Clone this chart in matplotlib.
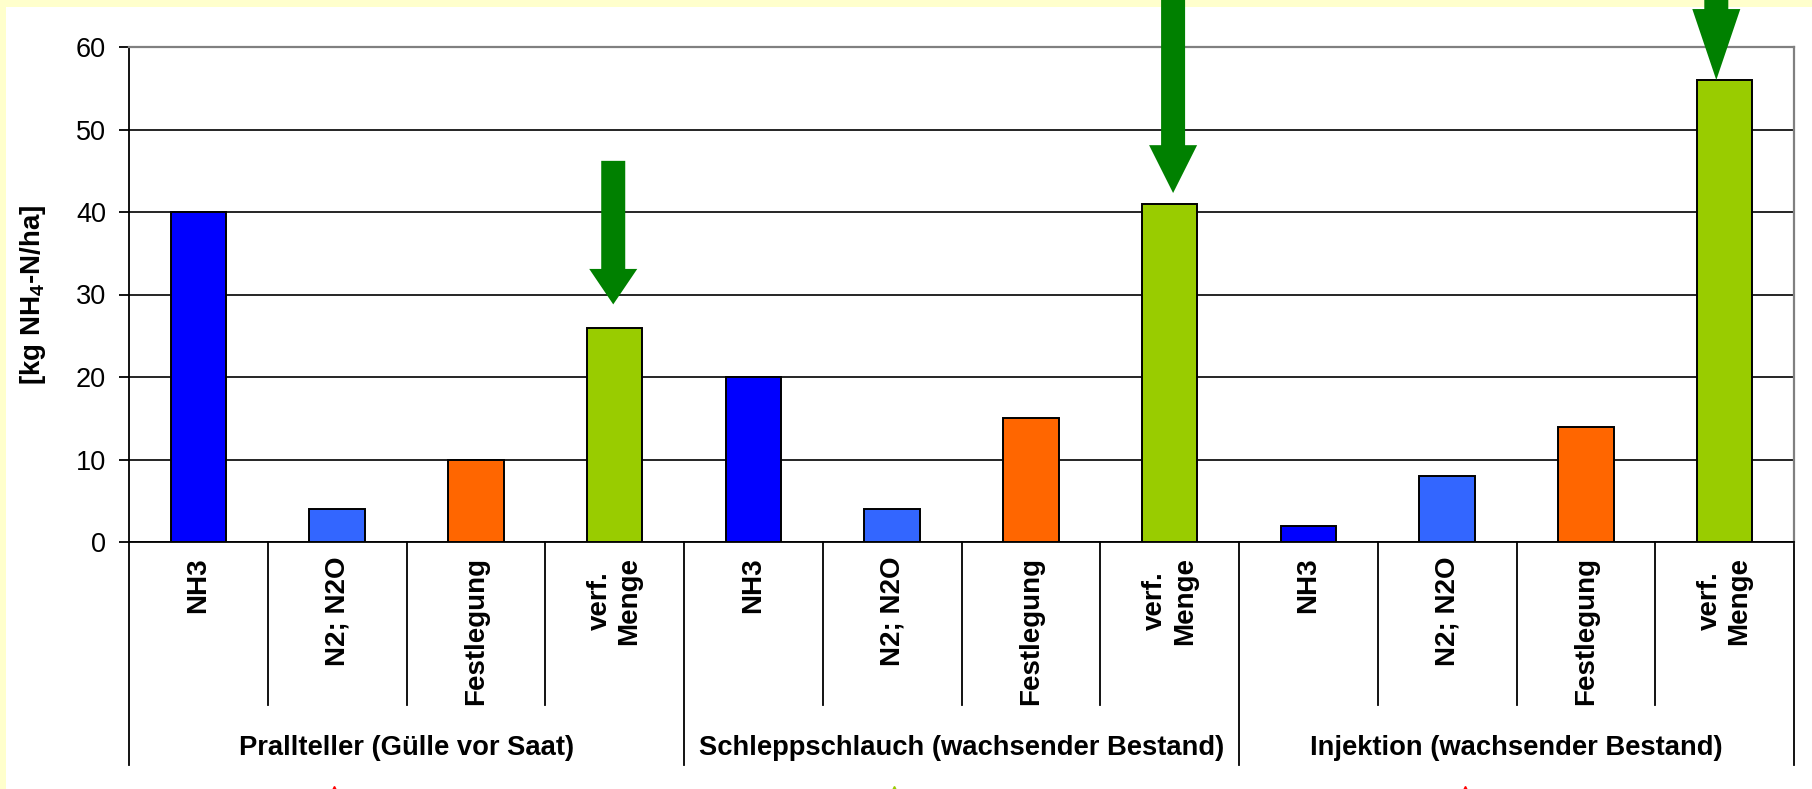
import matplotlib
matplotlib.use("Agg")
import matplotlib.pyplot as plt
import matplotlib.transforms as mtransforms
from matplotlib.patches import Rectangle, Polygon

plt.rcParams['font.family'] = ['Liberation Sans', 'DejaVu Sans']
plt.rcParams['mathtext.fontset'] = 'custom'
plt.rcParams['mathtext.rm'] = 'Liberation Sans:bold'

# data
groups = ["Prallteller (Gülle vor Saat)",
          "Schleppschlauch (wachsender Bestand)",
          "Injektion (wachsender Bestand)"]
categories = ["NH3", "N2; N2O", "Festlegung", "verf.\nMenge"]
cat_colors = ["#0000FF", "#3366FF", "#FF6600", "#99CC00"]
prallteller = [40, 4, 10, 26]
schleppschlauch = [20, 4, 15, 41]
injektion = [2, 8, 14, 56]
values = prallteller + schleppschlauch + injektion
labels = categories * 3
colors = cat_colors * 3
yticks = [0, 10, 20, 30, 40, 50, 60]

# green arrows pointing at the "verf. Menge" bars
arrow_cat = [3, 7, 11]
arrow_shift = [-0.01, 0.025, -0.06]
arrow_tail = [46.2, 66.0, 66.0]
arrow_head = [33.1, 48.1, 64.6]
arrow_tip = [28.8, 42.3, 56.0]

# little marks cut off at the bottom edge
mark_x = [0.98, 5.01, 9.13]
mark_colors = ["#FF0000", "#99CC00", "#FF0000"]

W, H = 1812, 789
fig = plt.figure(figsize=(W / 100, H / 100), dpi=100)
fig.patch.set_facecolor('#FFFFCC')
fig.add_artist(Rectangle((6 / W, 0), 1, 1 - 7 / H, transform=fig.transFigure,
                         facecolor='white', edgecolor='none', zorder=-5))

x0, x1, ytop, ybot = 129, 1794, 47, 542
ax = fig.add_axes([x0 / W, (H - ybot) / H, (x1 - x0) / W, (ybot - ytop) / H])
ax.set_facecolor('white')

xs = list(range(len(values)))
ax.bar(xs, values, width=0.4, color=colors, edgecolor='black', linewidth=1.4, zorder=3)

ax.set_xlim(-0.5, len(values) - 0.5)
ax.set_ylim(0, 60)
ax.set_yticks(yticks)
ax.tick_params(axis='y', direction='out', length=7.5, width=1.3, pad=9,
               labelsize=19.5, colors='black')
ax.set_xticks([])
ax.yaxis.grid(True, color='black', linewidth=1.2)
ax.set_axisbelow(True)

for s in ['left', 'bottom']:
    ax.spines[s].set_color('black')
    ax.spines[s].set_linewidth(1.3)
for s in ['top', 'right']:
    ax.spines[s].set_color('#808080')
    ax.spines[s].set_linewidth(1.6)

trans = mtransforms.blended_transform_factory(ax.transData, ax.transAxes)
axh = ybot - ytop

# separators under the axis
for k in range(len(values) + 1):
    low = -(765 - ybot) / axh if k % 4 == 0 else -(705 - ybot) / axh
    ax.plot([k - 0.5, k - 0.5], [0, low], transform=trans, color='black',
            linewidth=1.3, clip_on=False)

for i, lab in enumerate(labels):
    ax.text(i, -(557 - ybot) / axh, lab, transform=trans, rotation=90,
            ha='center', va='top', multialignment='center',
            fontsize=20, fontweight='bold')

for g, name in enumerate(groups):
    ax.text(g * 4 + 1.5, -(748 - ybot) / axh, name, transform=trans,
            ha='center', va='center', fontsize=19.7, fontweight='bold')

ax.text(-(x0 - 33) / (x1 - x0), 0.5, r'[kg NH$_{\mathrm{4}}$-N/ha]',
        transform=ax.transAxes, rotation=90, ha='center', va='center',
        fontsize=20, fontweight='bold')

# arrows
sw, hw = 0.173 / 2, 0.346 / 2
for c, dx, t, hb, tip in zip(arrow_cat, arrow_shift, arrow_tail, arrow_head, arrow_tip):
    cx = c + dx
    pts = [(cx - sw, t), (cx + sw, t), (cx + sw, hb), (cx + hw, hb),
           (cx, tip), (cx - hw, hb), (cx - sw, hb)]
    ax.add_patch(Polygon(pts, closed=True, facecolor='#008000',
                         edgecolor='none', zorder=6, clip_on=False))

for mx, mc in zip(mark_x, mark_colors):
    ax.plot([mx], [-(790 - ybot) / axh], transform=trans, marker='^',
            markersize=6, color=mc, clip_on=False, linestyle='none')

fig.savefig('out.png', dpi=100, facecolor=fig.get_facecolor())
